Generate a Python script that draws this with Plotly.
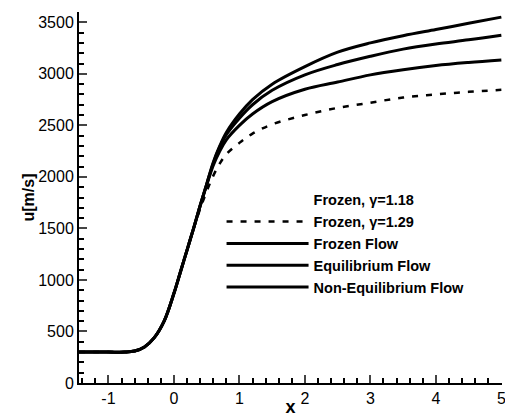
import plotly.graph_objects as go

x_vals = [-1.45, -1.0, -0.75, -0.6, -0.45, -0.3, -0.15, 0.0, 0.1, 0.2, 0.3,
          0.4, 0.5, 0.6, 0.7, 0.8, 1.0, 1.2, 1.5, 2.0, 2.5, 3.0, 3.5, 4.0, 4.5, 5.0]
common = [300, 300, 300, 310, 350, 440, 600, 870, 1080, 1290, 1500]
u_equilibrium = common + [1720, 1930, 2140, 2300, 2430, 2610, 2750, 2900, 3070, 3210, 3300, 3370, 3430, 3490, 3550]
u_nonequilibrium = common + [1720, 1930, 2130, 2290, 2410, 2570, 2700, 2840, 2990, 3090, 3170, 3240, 3290, 3330, 3375]
u_frozen_flow = common + [1720, 1920, 2110, 2250, 2360, 2500, 2610, 2730, 2850, 2920, 2990, 3040, 3080, 3110, 3135]
u_frozen_129 = common + [1690, 1860, 2010, 2130, 2220, 2330, 2420, 2510, 2600, 2670, 2720, 2770, 2800, 2825, 2845]

x_ticks = [-1, 0, 1, 2, 3, 4, 5]
names = ["Frozen, γ=1.18", "Frozen, γ=1.29", "Frozen Flow", "Equilibrium Flow", "Non-Equilibrium Flow"]

fig = go.Figure()
fig.add_trace(go.Scatter(x=[None], y=[None], mode="lines", name=names[0],
                         line=dict(color="rgba(0,0,0,0)", width=3)))
fig.add_trace(go.Scatter(x=x_vals, y=u_frozen_129, mode="lines", name=names[1],
                         line=dict(color="black", width=2.5, dash="6px,8px", shape="spline")))
fig.add_trace(go.Scatter(x=x_vals, y=u_frozen_flow, mode="lines", name=names[2],
                         line=dict(color="black", width=3, shape="spline")))
fig.add_trace(go.Scatter(x=x_vals, y=u_equilibrium, mode="lines", name=names[3],
                         line=dict(color="black", width=3, shape="spline")))
fig.add_trace(go.Scatter(x=x_vals, y=u_nonequilibrium, mode="lines", name=names[4],
                         line=dict(color="black", width=3, shape="spline")))

tickfont = dict(family="Liberation Sans, Arial", size=16, color="black")
fig.update_layout(
    width=505, height=417,
    margin=dict(l=79, r=3, t=12, b=34),
    paper_bgcolor="white", plot_bgcolor="white",
    font=dict(family="Liberation Sans, Arial", color="black"),
    legend=dict(x=0.337, y=0.537, xanchor="left", yanchor="top",
                font=dict(family="Liberation Sans, Arial", size=14.5, color="black", weight="bold"),
                bgcolor="rgba(255,255,255,0)", itemwidth=82, tracegroupgap=0),
    xaxis=dict(range=[-1.45, 5.01], tickmode="array", tickvals=x_ticks,
               ticktext=[str(t) for t in x_ticks],
               ticks="inside", ticklen=8, tickwidth=1.5,
               showline=True, linecolor="black", linewidth=2, showgrid=False, zeroline=False,
               tickfont=tickfont, automargin=False, ticklabeloverflow="allow",
               minor=dict(dtick=0.2, tick0=0, ticks="inside", ticklen=5, tickcolor="black", showgrid=False),
               title=dict(text="<b>x</b>", font=dict(size=18), standoff=0)),
    yaxis=dict(range=[0, 3600], dtick=500, ticks="inside", ticklen=8, tickwidth=1.5,
               showline=True, linecolor="black", linewidth=2, showgrid=False, zeroline=False,
               tickfont=tickfont, automargin=False,
               minor=dict(dtick=100, ticks="inside", ticklen=5, tickcolor="black", showgrid=False),
               title=dict(text="<b>u[m/s]</b>", font=dict(size=16), standoff=0)),
)

fig.write_html("out.html", config={"displayModeBar": False},
               post_script="document.body.style.margin='0px';document.body.style.overflow='hidden';")
